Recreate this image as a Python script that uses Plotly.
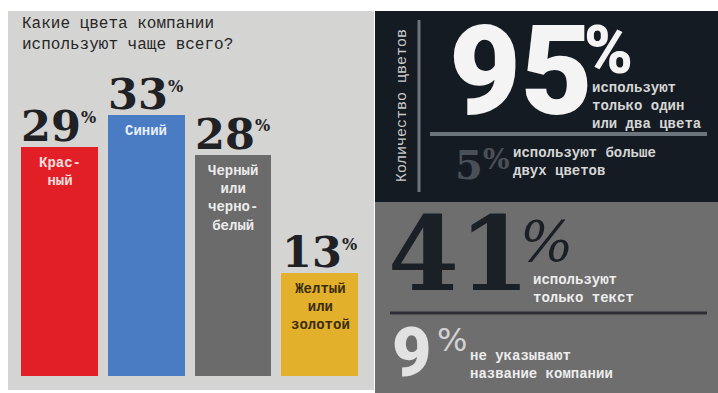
import plotly.graph_objects as go

# ---- data ----
bar_labels = ["Крас-<br>ный", "Синий", "Черный<br>или<br>черно-<br>белый", "Желтый<br>или<br>золотой"]
shares = [29, 33, 28, 13]
bar_colors = ["#e21f27", "#4a7cc3", "#6b6b6b", "#e2b02a"]
label_colors = ["#f6dede", "#e8eff9", "#ececec", "#3a2c0c"]

title_text = "Какие цвета компании<br>используют чаще всего?"

count_title = "Количество цветов"
colour_stats = [95, 5]
colour_notes = ["используют<br>только один<br>или два цвета", "используют больше<br>двух цветов"]
name_stats = [41, 9]
name_notes = ["используют<br>только текст", "не указывают<br>название компании"]

# ---- layout helpers ----
W, H = 718, 393


def px(x):
    return x / W


def py(y):
    return 1 - y / H


SLAB = "DejaVu Serif"
HEAVY = "Roboto, Inter, sans-serif"
TYPE = "Liberation Mono, DejaVu Sans Mono, monospace"

BAR_W = 0.885
xs = list(range(len(shares)))

fig = go.Figure()
fig.add_trace(go.Bar(
    x=xs, y=shares, width=BAR_W,
    marker=dict(color=bar_colors, line=dict(width=0)),
    hoverinfo="skip", showlegend=False,
))

shapes = [
    # light panel with the bar chart
    dict(type="rect", xref="paper", yref="paper", x0=px(8), x1=px(374), y0=py(390), y1=py(11),
         fillcolor="#d4d4d2", line=dict(width=0), layer="below"),
    # dark panel
    dict(type="rect", xref="paper", yref="paper", x0=px(375), x1=1, y0=py(202), y1=py(11),
         fillcolor="#151b22", line=dict(width=0), layer="below"),
    # grey panel
    dict(type="rect", xref="paper", yref="paper", x0=px(375), x1=1, y0=0, y1=py(202),
         fillcolor="#6e6e6e", line=dict(width=0), layer="below"),
    # rules
    dict(type="line", xref="paper", yref="paper", x0=px(419), x1=px(419), y0=py(192), y1=py(20),
         line=dict(color="#6c747c", width=3)),
    dict(type="line", xref="paper", yref="paper", x0=px(430), x1=px(707), y0=py(134), y1=py(134),
         line=dict(color="#6c747c", width=4)),
    dict(type="line", xref="paper", yref="paper", x0=px(390), x1=px(707), y0=py(313), y1=py(313),
         line=dict(color="#2b2f35", width=3)),
]

ann = []

# chart title
ann.append(dict(xref="paper", yref="paper", x=px(20), y=py(35), xanchor="left", yanchor="middle",
                text=title_text, align="left", showarrow=False,
                font=dict(family=TYPE, size=16, color="#262626")))

# value labels above bars and colour names inside bars
for i, v in enumerate(shares):
    left = xs[i] - BAR_W / 2
    ann.append(dict(xref="x", yref="y", x=left, y=v, xanchor="left", yanchor="bottom",
                    yshift=-6, xshift=-2, showarrow=False,
                    text=f"{v}",
                    font=dict(family=SLAB, size=43, color="#1f2124", weight="bold")))
    ann.append(dict(xref="x", yref="y", x=left, y=v, xanchor="left", yanchor="middle",
                    yshift=29, xshift=58, showarrow=False,
                    text="%",
                    font=dict(family=SLAB, size=16, color="#1f2124", weight="bold")))
    ann.append(dict(xref="x", yref="y", x=xs[i], y=v, xanchor="center", yanchor="top",
                    yshift=-6, showarrow=False, align="center",
                    text=bar_labels[i],
                    font=dict(family=TYPE, size=14, color=label_colors[i], weight="bold")))

# colour count panel
ann.append(dict(xref="paper", yref="paper", x=px(402), y=py(106), xanchor="center", yanchor="middle",
                text=count_title, textangle=-90, showarrow=False,
                font=dict(family=TYPE, size=15, color="#c9c9c9")))
ann.append(dict(xref="paper", yref="paper", x=px(447), y=py(72), xanchor="left", yanchor="middle",
                text=f"{colour_stats[0]}", showarrow=False,
                font=dict(family=HEAVY, size=124, color="#f4f4f4", weight=900)))
ann.append(dict(xref="paper", yref="paper", x=px(582), y=py(50), xanchor="left", yanchor="middle",
                text="%", showarrow=False,
                font=dict(family=HEAVY, size=66, color="#f4f4f4", weight=900)))
ann.append(dict(xref="paper", yref="paper", x=px(590), y=py(106), xanchor="left", yanchor="middle",
                text=colour_notes[0], align="left", showarrow=False,
                font=dict(family=TYPE, size=14, color="#d6d6d6", weight="bold")))
ann.append(dict(xref="paper", yref="paper", x=px(453), y=py(165), xanchor="left", yanchor="middle",
                text=f"{colour_stats[1]}", showarrow=False,
                font=dict(family=SLAB, size=40, color="#4a5058", weight="bold")))
ann.append(dict(xref="paper", yref="paper", x=px(481), y=py(159), xanchor="left", yanchor="middle",
                text="%", showarrow=False,
                font=dict(family=SLAB, size=28, color="#4a5058", weight="bold")))
ann.append(dict(xref="paper", yref="paper", x=px(511), y=py(162), xanchor="left", yanchor="middle",
                text=colour_notes[1], align="left", showarrow=False,
                font=dict(family=TYPE, size=14, color="#d6d6d6", weight="bold")))

# company name panel
ann.append(dict(xref="paper", yref="paper", x=px(386), y=py(254), xanchor="left", yanchor="middle",
                text=f"{name_stats[0]}", showarrow=False,
                font=dict(family=SLAB, size=102, color="#1b2027", weight="bold")))
ann.append(dict(xref="paper", yref="paper", x=px(518), y=py(242), xanchor="left", yanchor="middle",
                text="%", showarrow=False,
                font=dict(family=SLAB, size=56, color="#1b2027", style="italic")))
ann.append(dict(xref="paper", yref="paper", x=px(531), y=py(289), xanchor="left", yanchor="middle",
                text=name_notes[0], align="left", showarrow=False,
                font=dict(family=TYPE, size=14, color="#ededed", weight="bold")))
ann.append(dict(xref="paper", yref="paper", x=px(390), y=py(353), xanchor="left", yanchor="middle",
                text=f"{name_stats[1]}", showarrow=False,
                font=dict(family=HEAVY, size=68, color="#e2e2e2", weight=900)))
ann.append(dict(xref="paper", yref="paper", x=px(435), y=py(340), xanchor="left", yanchor="middle",
                text="%", showarrow=False,
                font=dict(family="DejaVu Sans, sans-serif", size=32, color="#d2d2d2")))
ann.append(dict(xref="paper", yref="paper", x=px(468), y=py(365), xanchor="left", yanchor="middle",
                text=name_notes[1], align="left", showarrow=False,
                font=dict(family=TYPE, size=14, color="#ededed", weight="bold")))

# bar axes: zero at y=376 px, 7.9 px per percentage point
x_left = 59.6 - 0.5 * 86.8
x_right = 59.6 + 3.5 * 86.8
y_zero = 376
y_top = y_zero - 40 * 7.9

fig.update_layout(
    width=W, height=H,
    margin=dict(l=0, r=0, t=0, b=0),
    paper_bgcolor="#ffffff",
    plot_bgcolor="rgba(0,0,0,0)",
    bargap=0,
    xaxis=dict(domain=[px(x_left), px(x_right)], range=[-0.5, 3.5], visible=False, fixedrange=True),
    yaxis=dict(domain=[py(y_zero), py(y_top)], range=[0, 40], visible=False, fixedrange=True),
    shapes=shapes,
    annotations=ann,
    showlegend=False,
)

fig.write_html("out.html", config=dict(displayModeBar=False))
